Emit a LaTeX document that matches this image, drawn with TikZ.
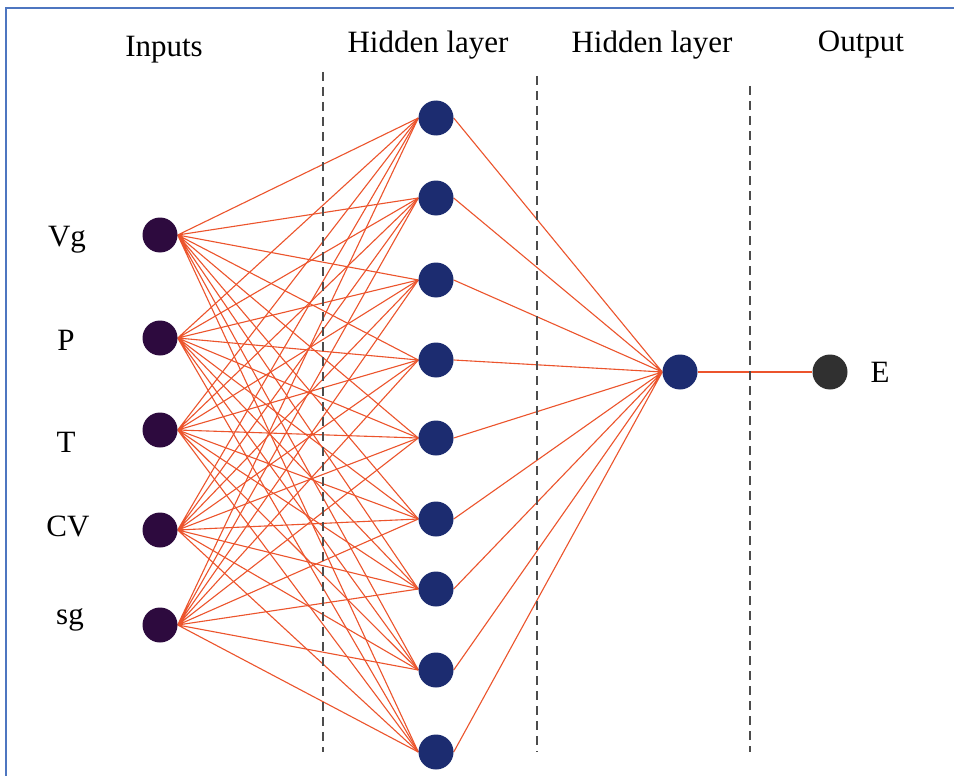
\documentclass[tikz,border=0pt]{standalone}
\usepackage{fontspec}
\setmainfont{Liberation Serif}
\usepackage{tikz}
\usetikzlibrary{backgrounds}

\definecolor{incol}{RGB}{45,10,62}
\definecolor{hidcol}{RGB}{28,44,112}
\definecolor{outcol}{RGB}{48,48,48}
\definecolor{linkcol}{RGB}{236,84,44}
\definecolor{framecol}{RGB}{78,118,192}

\tikzset{
    neuron/.style={circle, minimum size=35pt, inner sep=0pt},
    inneuron/.style={neuron, fill=incol},
    hidneuron/.style={neuron, fill=hidcol},
    outneuron/.style={neuron, fill=outcol},
    link/.style={linkcol, line width=1.1pt},
    divider/.style={black!70, line width=1.3pt, dash pattern=on 9pt off 6pt},
    lbl/.style={font=\fontsize{31}{36}\selectfont, inner sep=0pt},
}

% every input feeds every unit of the first hidden layer
\newcommand{\Links}{
    \draw[link] (vg.east) -- (h1.west) (vg.east) -- (h2.west) (vg.east) -- (h3.west) (vg.east) -- (h4.west) (vg.east) -- (h5.west) (vg.east) -- (h6.west) (vg.east) -- (h7.west) (vg.east) -- (h8.west) (vg.east) -- (h9.west);
    \draw[link] (p.east) -- (h1.west) (p.east) -- (h2.west) (p.east) -- (h3.west) (p.east) -- (h4.west) (p.east) -- (h5.west) (p.east) -- (h6.west) (p.east) -- (h7.west) (p.east) -- (h8.west) (p.east) -- (h9.west);
    \draw[link] (t.east) -- (h1.west) (t.east) -- (h2.west) (t.east) -- (h3.west) (t.east) -- (h4.west) (t.east) -- (h5.west) (t.east) -- (h6.west) (t.east) -- (h7.west) (t.east) -- (h8.west) (t.east) -- (h9.west);
    \draw[link] (cv.east) -- (h1.west) (cv.east) -- (h2.west) (cv.east) -- (h3.west) (cv.east) -- (h4.west) (cv.east) -- (h5.west) (cv.east) -- (h6.west) (cv.east) -- (h7.west) (cv.east) -- (h8.west) (cv.east) -- (h9.west);
    \draw[link] (sg.east) -- (h1.west) (sg.east) -- (h2.west) (sg.east) -- (h3.west) (sg.east) -- (h4.west) (sg.east) -- (h5.west) (sg.east) -- (h6.west) (sg.east) -- (h7.west) (sg.east) -- (h8.west) (sg.east) -- (h9.west);
    \draw[link] (h1.east) -- (hh.west) (h2.east) -- (hh.west) (h3.east) -- (hh.west) (h4.east) -- (hh.west) (h5.east) -- (hh.west) (h6.east) -- (hh.west) (h7.east) -- (hh.west) (h8.east) -- (hh.west) (h9.east) -- (hh.west);
    \draw[link] (hh.east) -- (e.west);
}

\begin{document}
\begin{tikzpicture}[x=1pt, y=-1pt]
    \useasboundingbox (0,0) rectangle (954,776);
    \begin{scope}[on background layer]
        \fill[white] (0,0) rectangle (954,776);
    \end{scope}
    \draw[framecol, line width=2pt] (6,776) -- (6,8) -- (954,8);

    % column headings
    \node[lbl] (hin)  at (164,50) {Inputs};
    \node[lbl] (hhid) at (428,45) {Hidden layer};
    \node[lbl] (hhid2) at (652,45) {Hidden layer};
    \node[lbl] (hout) at (861,45) {Output};

    % layer dividers
    \draw[divider] (323,72) -- (323,752);
    \draw[divider] (537,76) -- (537,752);
    \draw[divider] (750,86) -- (750,752);

    % input units
    \node[inneuron] (vg) at (160,235) {};
    \node[inneuron] (p)  at (160,338) {};
    \node[inneuron] (t)  at (160,430) {};
    \node[inneuron] (cv) at (160,530) {};
    \node[inneuron] (sg) at (160,625) {};

    \node[lbl] at (67,240) {Vg};
    \node[lbl] at (66,340) {P};
    \node[lbl] at (66,442) {T};
    \node[lbl] at (68,526) {CV};
    \node[lbl] at (70,620) {sg};

    % first hidden layer
    \node[hidneuron] (h1) at (436,118) {};
    \node[hidneuron] (h2) at (436,198) {};
    \node[hidneuron] (h3) at (436,280) {};
    \node[hidneuron] (h4) at (436,360) {};
    \node[hidneuron] (h5) at (436,438) {};
    \node[hidneuron] (h6) at (436,519) {};
    \node[hidneuron] (h7) at (436,589) {};
    \node[hidneuron] (h8) at (436,670) {};
    \node[hidneuron] (h9) at (436,752) {};

    % second hidden layer and output
    \node[hidneuron] (hh) at (680,372) {};
    \node[outneuron] (e)  at (830,372) {};
    \node[lbl] at (880,372) {E};

    \begin{scope}[on background layer]
        \Links
    \end{scope}
\end{tikzpicture}
\end{document}
